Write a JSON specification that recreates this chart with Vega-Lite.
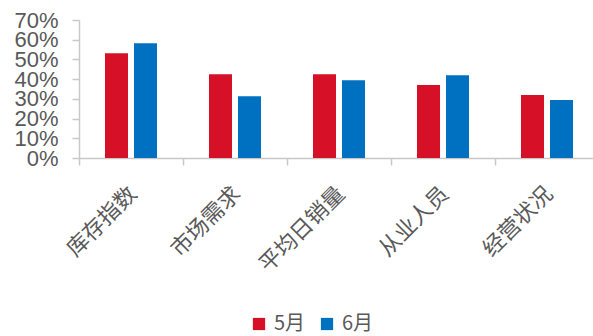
{
  "$schema": "https://vega.github.io/schema/vega-lite/v6.json",
  "width": 514,
  "height": 138,
  "autosize": "none",
  "padding": {"left": 79, "top": 20, "right": 0, "bottom": 178},
  "background": "white",
  "config": {"view": {"stroke": null}},
  "data": {
    "values": [
      {"cat": "库存指数", "month": "5月", "v": 0.531},
      {"cat": "库存指数", "month": "6月", "v": 0.582},
      {"cat": "市场需求", "month": "5月", "v": 0.425},
      {"cat": "市场需求", "month": "6月", "v": 0.313},
      {"cat": "平均日销量", "month": "5月", "v": 0.425},
      {"cat": "平均日销量", "month": "6月", "v": 0.394},
      {"cat": "从业人员", "month": "5月", "v": 0.370},
      {"cat": "从业人员", "month": "6月", "v": 0.420},
      {"cat": "经营状况", "month": "5月", "v": 0.320},
      {"cat": "经营状况", "month": "6月", "v": 0.294}
    ]
  },
  "mark": {"type": "bar"},
  "encoding": {
    "x": {
      "field": "cat", "type": "nominal", "sort": null,
      "scale": {"range": [0, 520], "paddingInner": 0, "paddingOuter": 0},
      "axis": {
        "title": null,
        "bandPosition": 0,
        "labelAngle": -45,
        "labelAlign": "right",
        "labelBaseline": "middle",
        "labelOffset": 2,
        "labelPadding": 25,
        "labelOverlap": false,
        "labelFont": "Noto Sans CJK SC",
        "labelFontSize": 22,
        "labelColor": "#595959",
        "domainColor": "#c8c8c8",
        "domainWidth": 1.5,
        "tickColor": "#c8c8c8",
        "tickWidth": 1.5,
        "tickSize": 7,
        "grid": false
      }
    },
    "xOffset": {
      "field": "month", "type": "nominal",
      "scale": {"paddingInner": 0.207, "paddingOuter": 0.897}
    },
    "y": {
      "field": "v", "type": "quantitative",
      "scale": {"domain": [0, 0.7], "nice": false},
      "axis": {
        "title": null,
        "values": [0, 0.1, 0.2, 0.3, 0.4, 0.5, 0.6, 0.7],
        "format": ".0%",
        "grid": false,
        "labelOverlap": false,
        "labelFont": "Liberation Sans",
        "labelFontSize": 22,
        "labelColor": "#595959",
        "labelPadding": 14,
        "domainColor": "#c8c8c8",
        "domainWidth": 1.5,
        "tickColor": "#c8c8c8",
        "tickWidth": 1.5,
        "tickSize": 7
      }
    },
    "color": {
      "field": "month", "type": "nominal",
      "scale": {"domain": ["5月", "6月"], "range": ["#d51027", "#0070c0"]},
      "legend": {
        "title": null,
        "orient": "none",
        "direction": "horizontal",
        "legendX": 170,
        "legendY": 294,
        "symbolType": "square",
        "symbolSize": 150,
        "symbolStrokeWidth": 0,
        "symbolOpacity": 1,
        "labelFont": "Noto Sans CJK SC",
        "labelFontSize": 20,
        "labelColor": "#595959",
        "labelOffset": 5,
        "columnPadding": 11
      }
    }
  }
}
